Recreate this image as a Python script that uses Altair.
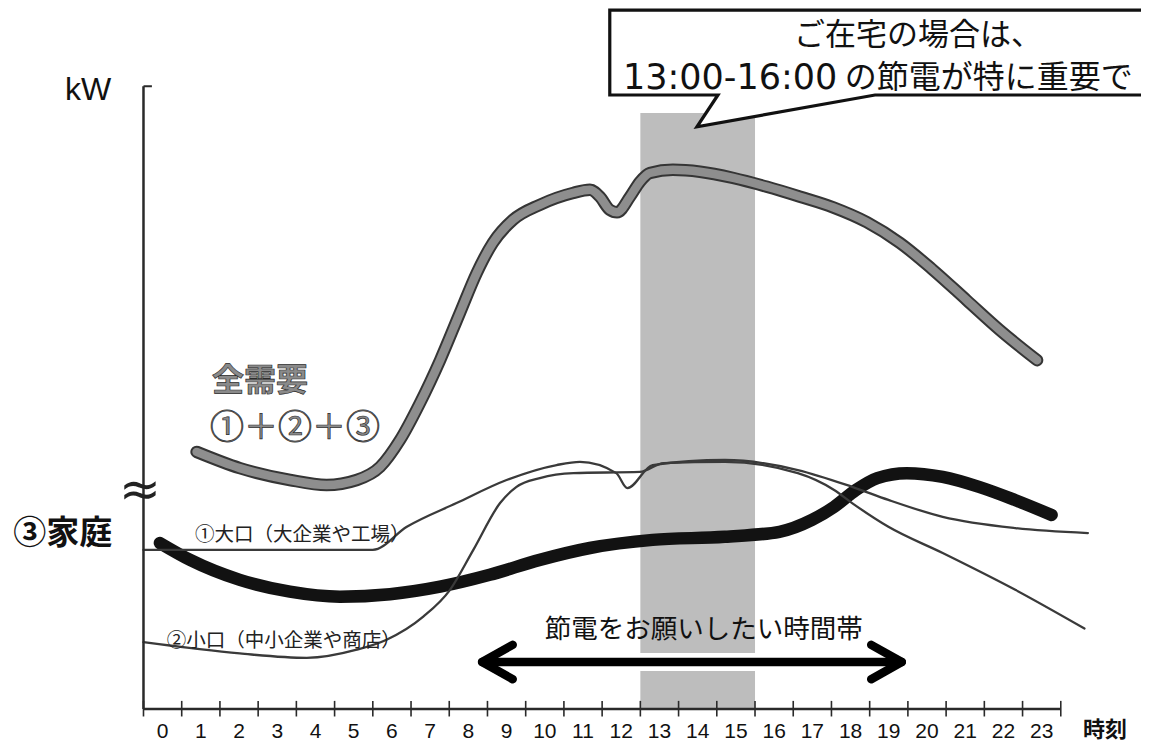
import altair as alt
import pandas as pd

# ---------------- values ----------------
# x: hour of day (0-24), y: relative demand (axis units, 0 at the time axis)
total_h = [1.39, 2.52, 3.83, 4.79, 5.58, 6.19, 6.71, 7.23, 7.76, 8.28, 8.72, 9.14, 9.67, 10.37,
           11.24, 11.68, 11.94, 12.20, 12.39, 12.73, 12.99, 13.25, 13.85, 14.56, 15.43, 16.31,
           17.18, 18.04, 18.93, 19.79, 20.65, 21.54, 22.41, 23.38]
total_v = [41.2, 38.6, 36.7, 35.9, 36.7, 38.8, 43.1, 49.0, 55.9, 63.5, 69.9, 74.7, 78.4, 80.8,
           82.7, 83.2, 82.1, 80.0, 79.6, 82.1, 84.5, 85.9, 86.4, 86.1, 85.1, 83.7,
           82.1, 80.4, 78.0, 74.7, 70.4, 65.5, 60.7, 55.9]

home_h = [0.43, 1.22, 2.52, 3.83, 5.14, 6.45, 7.76, 9.06, 10.37, 11.68, 13.32, 15.21, 16.64,
          17.49, 18.07, 18.64, 19.20, 19.97, 20.91, 21.86, 22.80, 23.76]
home_v = [26.6, 23.9, 20.7, 18.8, 18.0, 18.4, 19.6, 21.5, 23.9, 25.8, 27.1, 27.6, 28.4,
          30.3, 32.4, 35.1, 37.0, 37.8, 37.2, 35.6, 33.5, 31.1]

large_h = [0.0, 6.00, 6.89, 8.19, 9.50, 10.81, 11.42, 12.37, 12.66, 13.32, 15.21, 17.12,
           18.54, 19.49, 20.91, 22.81, 24.71]
large_v = [25.5, 25.5, 29.2, 33.0, 36.7, 39.1, 39.6, 37.8, 35.4, 39.1, 39.9, 38.3,
           35.6, 33.5, 30.8, 29.0, 28.2]

small_h = [0.0, 2.52, 4.27, 5.58, 6.36, 7.32, 8.02, 8.63, 9.33, 9.76, 10.37, 11.25, 12.99,
           13.61, 15.21, 17.12, 18.07, 18.54, 19.49, 20.91, 22.81, 24.62]
small_v = [10.7, 8.9, 8.2, 9.5, 11.1, 14.8, 19.1, 25.5, 33.0, 35.6, 37.0, 37.8, 38.0,
           39.4, 39.6, 37.8, 35.1, 33.0, 29.2, 25.0, 19.1, 12.9]

hour_ticks = list(range(0, 25))
hour_labels = [str(i) for i in range(24)]
peak_start, peak_end = 13, 16          # 13:00-16:00 shaded band
request_start, request_end = 8.86, 19.84  # arrow "節電をお願いしたい時間帯"

# ---------------- scales ----------------
X = alt.Scale(domain=[-3.545, 26.099], nice=False, zero=False)
Y = alt.Scale(domain=[-5.93, 112.34], nice=False, zero=False)


def ex(f):
    return alt.X(f + ":Q", scale=X, axis=None)


def ey(f):
    return alt.Y(f + ":Q", scale=Y, axis=None)


layers = []

# shaded band 13-16h
layers.append(
    alt.Chart(pd.DataFrame({"a": [peak_start], "b": [peak_end], "c": [0.0], "d": [95.5]}))
    .mark_rect(color="#bdbdbd")
    .encode(x=ex("a"), x2="b:Q", y=ey("c"), y2="d:Q")
)

# white halo of the arrow over the shading
arrow_v = 7.53
layers.append(
    alt.Chart(pd.DataFrame({"h": [request_start + 0.3, request_end - 0.3], "v": [arrow_v, arrow_v]}))
    .mark_line(color="white", strokeWidth=18)
    .encode(x=ex("h"), y=ey("v"))
)

# callout box (white fill)
layers.append(
    alt.Chart(pd.DataFrame({"a": [12.20], "b": [27.0], "c": [98.4], "d": [112.0]}))
    .mark_rect(color="white")
    .encode(x=ex("a"), x2="b:Q", y=ey("c"), y2="d:Q")
)
layers.append(
    alt.Chart(pd.DataFrame({"h": [14.48, 15.03, 19.14], "t": [93.3, 98.4, 98.4], "b": [93.3, 93.9, 98.4]}))
    .mark_area(color="white")
    .encode(x=ex("h"), y=ey("t"), y2="b:Q")
)
border = pd.DataFrame({
    "h": [27.0, 12.20, 12.20, 15.03, 14.48, 19.14, 27.0],
    "v": [112.0, 112.0, 98.4, 98.4, 93.3, 98.4, 98.4],
    "o": list(range(7)),
})
layers.append(
    alt.Chart(border).mark_line(color="#111", strokeWidth=3.2, strokeJoin="miter")
    .encode(x=ex("h"), y=ey("v"), order="o:Q")
)

# data curves
def curve(hs, vs, color, width):
    return (
        alt.Chart(pd.DataFrame({"h": hs, "v": vs}))
        .mark_line(color=color, strokeWidth=width, interpolate="monotone", strokeCap="round", strokeJoin="round")
        .encode(x=ex("h"), y=ey("v"))
    )


layers.append(curve(total_h, total_v, "#353535", 12.5))
layers.append(curve(total_h, total_v, "#8e8e8e", 8.5))
layers.append(curve(home_h, home_v, "#121212", 12.5))
layers.append(curve(large_h, large_v, "#3a3a3a", 2.3))
layers.append(curve(small_h, small_v, "#3a3a3a", 2.3))

# double arrow
dh, dv = 0.8, 2.75
arrow = pd.DataFrame({
    "h": [request_start, request_end,
          request_start + dh, request_start, request_start + dh,
          request_end - dh, request_end, request_end - dh],
    "v": [arrow_v, arrow_v,
          arrow_v + dv, arrow_v, arrow_v - dv,
          arrow_v + dv, arrow_v, arrow_v - dv],
    "s": ["m", "m", "l", "l", "l", "r", "r", "r"],
    "o": [0, 1, 0, 1, 2, 0, 1, 2],
})
layers.append(
    alt.Chart(arrow).mark_line(color="#000", strokeWidth=8.5, strokeCap="round", strokeJoin="round")
    .encode(x=ex("h"), y=ey("v"), detail="s:N", order="o:Q")
)

# axes (drawn by hand)
layers.append(
    alt.Chart(pd.DataFrame({"h": [0.0], "a": [0.0], "b": [99.8]}))
    .mark_rule(color="#2a2a2a", strokeWidth=2.5)
    .encode(x=ex("h"), y=ey("a"), y2="b:Q")
)
layers.append(
    alt.Chart(pd.DataFrame({"a": [0.0], "b": [0.22], "v": [99.8]}))
    .mark_rule(color="#2a2a2a", strokeWidth=2)
    .encode(x=ex("a"), x2="b:Q", y=ey("v"))
)
layers.append(
    alt.Chart(pd.DataFrame({"a": [0.0], "b": [24.0], "v": [0.0]}))
    .mark_rule(color="#2a2a2a", strokeWidth=2.5)
    .encode(x=ex("a"), x2="b:Q", y=ey("v"))
)
layers.append(
    alt.Chart(pd.DataFrame({"h": hour_ticks, "a": [-1.2] * 25, "b": [1.3] * 25}))
    .mark_rule(color="#2a2a2a", strokeWidth=1.6)
    .encode(x=ex("h"), y=ey("a"), y2="b:Q")
)
layers.append(
    alt.Chart(pd.DataFrame({"h": [i + 0.5 for i in range(24)], "v": [-4.7] * 24, "t": hour_labels}))
    .mark_text(font="Liberation Sans", fontSize=21, color="#111", baseline="alphabetic", align="center")
    .encode(x=ex("h"), y=ey("v"), text="t:N")
)


def label(h, v, text, size, align="left", font="Noto Sans CJK JP", weight="normal", color="#111", **kw):
    return (
        alt.Chart(pd.DataFrame({"h": [h], "v": [v], "t": [text]}))
        .mark_text(font=font, fontSize=size, fontWeight=weight, color=color, align=align,
                   baseline="middle", **kw)
        .encode(x=ex("h"), y=ey("v"), text="t:N")
    )


layers.append(label(25.16, -3.4, "時刻", 22, align="center", weight="bold"))
layers.append(label(-1.45, 99.2, "kW", 32, align="center", font="Liberation Sans"))
layers.append(label(-0.09, 34.9, "≈", 50, align="center", font="DejaVu Sans", color="#222"))
layers.append(label(-3.41, 28.0, "③家庭", 33, weight="bold"))
layers.append(label(1.79, 52.6, "全需要", 32, weight="bold", color="#8a8a8a", stroke="#2b2b2b", strokeWidth=0.7))
layers.append(label(1.74, 44.8, "①＋②＋③", 34, color="#8a8a8a", stroke="#2b2b2b", strokeWidth=0.7))
layers.append(label(1.35, 27.9, "①大口（大企業や工場）", 19.5, color="#222"))
layers.append(label(0.61, 10.9, "②小口（中小企業や商店）", 19.5, color="#222"))
layers.append(label(10.50, 12.7, "節電をお願いしたい時間帯", 26.5))
layers.append(label(17.02, 107.8, "ご在宅の場合は、", 31))
layers.append(label(15.35, 101.2, "13:00-16:00", 35, align="center", font="DejaVu Sans"))
layers.append(label(18.35, 101.2, "の節電が特に重要で", 32))

chart = (
    alt.layer(*layers)
    .properties(width=1133, height=738, padding=0, autosize=alt.AutoSizeParams(type="none"),
                background="white")
    .configure_view(stroke=None)
)

chart.save("out.html", embed_options={"renderer": "svg", "actions": False})
